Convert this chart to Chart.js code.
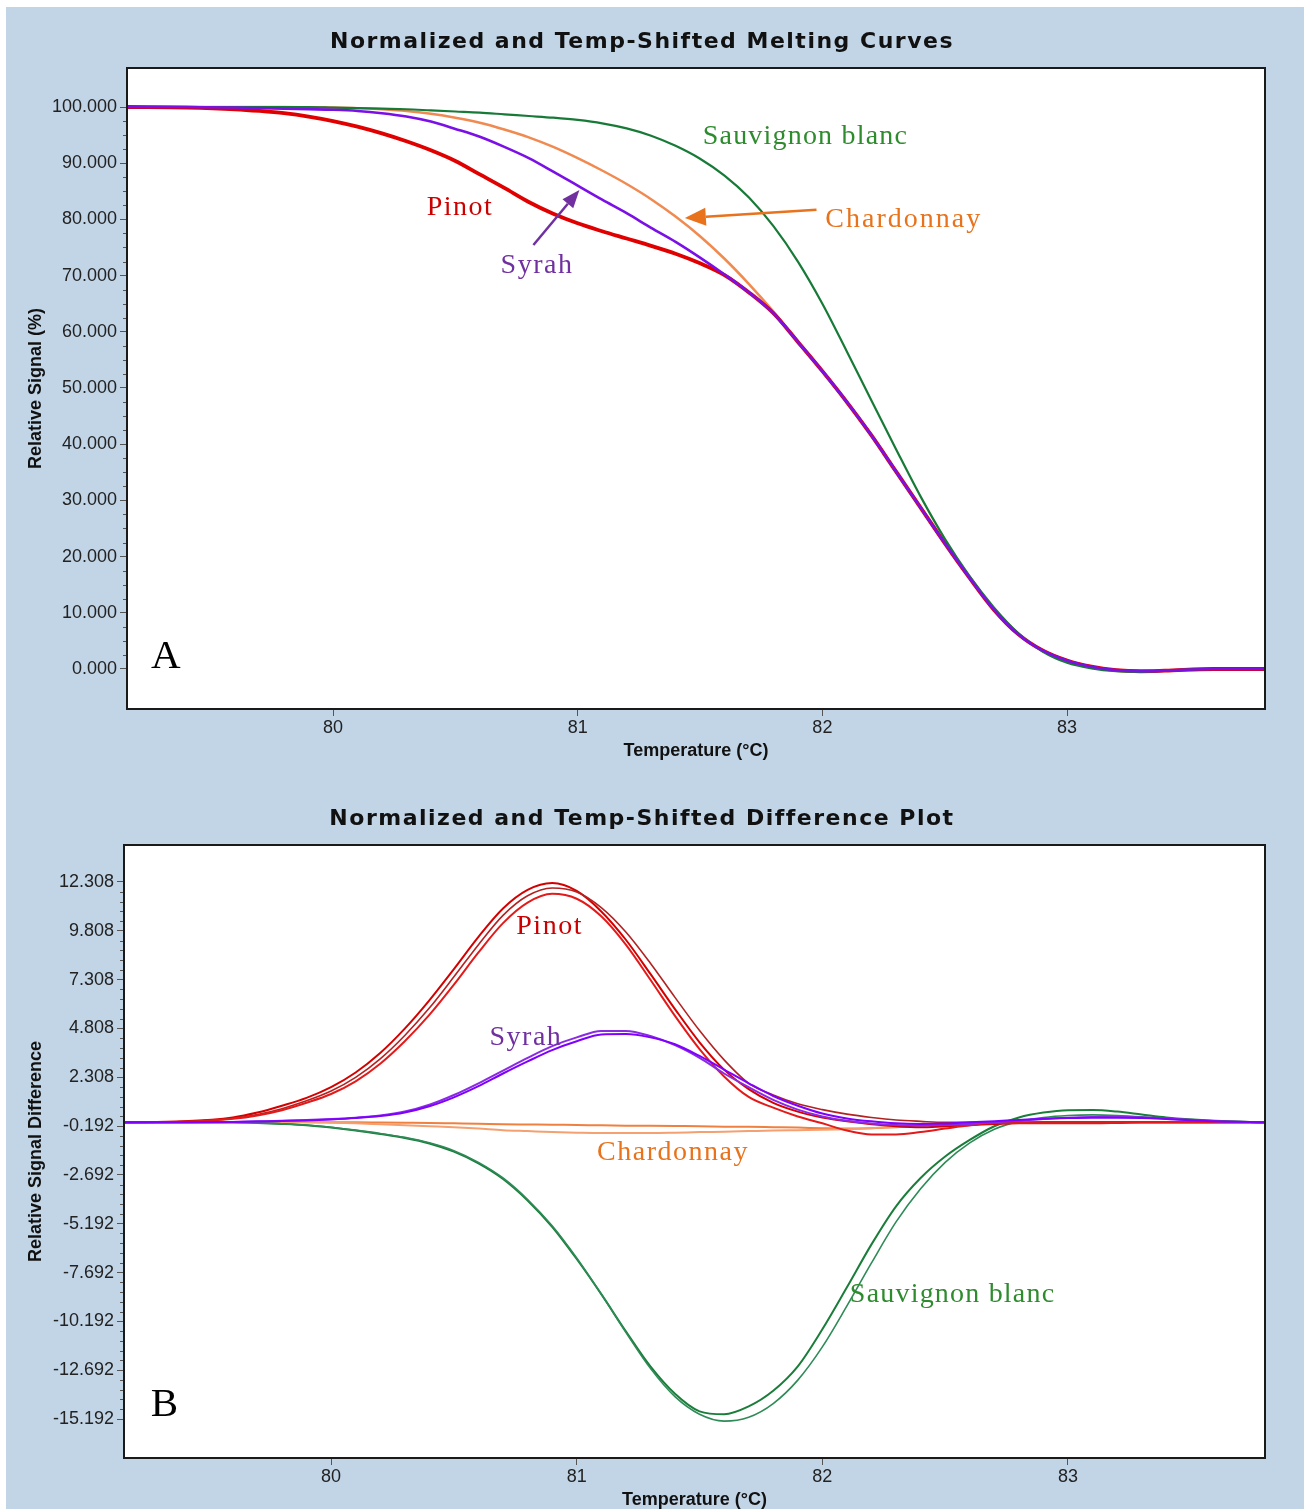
<!DOCTYPE html>
<html><head><meta charset="utf-8">
<script src="https://cdn.jsdelivr.net/npm/chart.js@4.4.1/dist/chart.umd.min.js"></script>
<style>
html,body{margin:0;padding:0;background:#fff;}
body{width:1304px;height:1509px;position:relative;overflow:hidden;}
#bg{position:absolute;left:6px;top:7px;width:1298px;height:1502px;background:#c2d5e7;}
.panel{position:absolute;left:6px;width:1298px;}
.ttl{position:absolute;left:-13px;width:1298px;text-align:center;font-family:"DejaVu Sans";font-weight:bold;font-size:22px;letter-spacing:1.5px;color:#111;line-height:26px;white-space:nowrap;}
canvas{position:absolute;left:0;top:0;}
</style></head>
<body>
<div id="bg"></div>
<div class="panel" style="top:7px;height:761px;">
  <canvas id="c1" width="1298" height="761"></canvas>
  <div class="ttl" style="top:21px;">Normalized and Temp-Shifted Melting Curves</div>
</div>
<div class="panel" style="top:768px;height:741px;">
  <canvas id="c2" width="1298" height="741"></canvas>
  <div class="ttl" style="top:37px;">Normalized and Temp-Shifted Difference Plot</div>
</div>
<script>
// ---------- data ----------
const TEMP = [79.16, 79.4, 79.6, 79.7, 79.8, 79.9, 80.0, 80.1, 80.2, 80.3, 80.4, 80.5, 80.6, 80.7, 80.8, 80.9, 81.0, 81.1, 81.2, 81.3, 81.4, 81.5, 81.6, 81.7, 81.8, 81.9, 82.0, 82.1, 82.2, 82.3, 82.4, 82.5, 82.6, 82.7, 82.8, 82.9, 83.0, 83.1, 83.2, 83.3, 83.4, 83.6, 83.81];

const X_TICKS = [80, 81, 82, 83];
const Y_TICKS_A = [0, 10, 20, 30, 40, 50, 60, 70, 80, 90, 100];
const Y_TICKS_B = [12.308, 9.808, 7.308, 4.808, 2.308, -0.192, -2.692, -5.192, -7.692, -10.192, -12.692, -15.192];

// Panel A: normalized melting curves (relative signal %)
const MELT_CHARD = [100, 100, 100, 100, 100, 99.95, 99.9, 99.8, 99.6, 99.3, 98.8, 98.1, 97.2, 96.0, 94.6, 92.9, 90.9, 88.7, 86.3, 83.6, 80.5, 77.0, 73.0, 68.5, 63.6, 58.2, 53.0, 47.5, 41.6, 35.2, 28.8, 22.4, 16.3, 10.6, 6.2, 3.3, 1.5, 0.4, -0.2, -0.4, -0.3, 0, 0];
const MELT_PINOT = [100, 99.9, 99.6, 99.3, 98.9, 98.3, 97.5, 96.5, 95.3, 93.9, 92.3, 90.4, 88.0, 85.6, 83.1, 81.0, 79.3, 77.9, 76.6, 75.3, 73.9, 72.2, 70.1, 67.0, 63.3, 58.2, 53.0, 47.5, 41.6, 35.2, 28.8, 22.4, 16.3, 10.6, 6.2, 3.3, 1.5, 0.4, -0.2, -0.4, -0.3, 0, 0];
const MELT_SYRAH = [100, 100, 99.9, 99.8, 99.7, 99.6, 99.5, 99.3, 98.9, 98.3, 97.4, 96.1, 94.7, 92.9, 90.9, 88.5, 86.0, 83.5, 81.1, 78.5, 76.0, 73.2, 70.2, 67.0, 63.3, 58.2, 53.0, 47.5, 41.6, 35.2, 28.8, 22.4, 16.3, 10.6, 6.2, 3.3, 1.5, 0.4, -0.2, -0.4, -0.3, 0, 0];
const MELT_SAUV = [100, 100, 100, 100, 100, 100, 99.9, 99.8, 99.7, 99.6, 99.4, 99.2, 99.0, 98.7, 98.4, 98.1, 97.7, 97.1, 96.2, 94.9, 93.1, 90.8, 87.8, 83.9, 78.8, 72.5, 65.0, 56.5, 47.8, 39.2, 30.8, 23.2, 16.6, 11.0, 6.4, 3.1, 1.1, 0.1, -0.4, -0.5, -0.3, 0, 0];

// Panel B: difference plot (replicates)
const DIFF_PINOT_1 = [0, 0.05, 0.25, 0.5, 0.85, 1.25, 1.8, 2.55, 3.55, 4.8, 6.25, 7.85, 9.5, 10.95, 11.9, 12.25, 11.85, 10.8, 9.35, 7.6, 5.8, 4.1, 2.7, 1.7, 1.0, 0.55, 0.25, 0.05, -0.1, -0.2, -0.25, -0.2, -0.15, -0.08, -0.03, 0, 0, 0, 0, 0, 0, 0, 0];
const DIFF_PINOT_2 = [0, 0.04, 0.2, 0.4, 0.7, 1.1, 1.6, 2.3, 3.25, 4.45, 5.85, 7.45, 9.1, 10.6, 11.6, 12.0, 11.8, 11.0, 9.75, 8.15, 6.4, 4.7, 3.2, 2.0, 1.4, 0.95, 0.65, 0.42, 0.25, 0.12, 0.05, 0, 0, 0, 0, 0, 0, 0, 0, 0, 0, 0, 0];
const DIFF_PINOT_3 = [0, 0.03, 0.18, 0.35, 0.62, 1.0, 1.45, 2.1, 3.0, 4.15, 5.5, 7.05, 8.7, 10.2, 11.25, 11.7, 11.45, 10.55, 9.1, 7.3, 5.45, 3.75, 2.35, 1.3, 0.75, 0.3, -0.05, -0.42, -0.62, -0.62, -0.5, -0.32, -0.15, -0.04, -0.05, -0.05, -0.05, -0.05, -0.03, 0, 0, 0, 0];
const DIFF_SYRAH_1 = [0, 0, 0.02, 0.05, 0.08, 0.12, 0.17, 0.24, 0.35, 0.55, 0.9, 1.4, 2.0, 2.65, 3.3, 3.9, 4.35, 4.68, 4.68, 4.42, 3.95, 3.3, 2.5, 1.8, 1.15, 0.65, 0.3, 0.08, -0.06, -0.14, -0.16, -0.14, -0.08, 0, 0.08, 0.17, 0.23, 0.27, 0.28, 0.26, 0.2, 0.06, 0];
const DIFF_SYRAH_2 = [0, 0, 0.02, 0.04, 0.07, 0.1, 0.15, 0.22, 0.32, 0.5, 0.82, 1.28, 1.85, 2.5, 3.12, 3.7, 4.15, 4.5, 4.52, 4.35, 4.0, 3.4, 2.7, 2.0, 1.35, 0.85, 0.45, 0.2, 0.05, -0.05, -0.08, -0.06, 0, 0.06, 0.12, 0.18, 0.22, 0.24, 0.24, 0.22, 0.17, 0.05, 0];
const DIFF_CHARD_1 = [0, 0, 0, 0, 0, 0, 0, 0, -0.01, -0.02, -0.03, -0.05, -0.07, -0.1, -0.11, -0.12, -0.14, -0.15, -0.17, -0.18, -0.19, -0.2, -0.22, -0.23, -0.25, -0.27, -0.3, -0.32, -0.3, -0.25, -0.18, -0.1, -0.05, 0, 0, 0, 0, 0, 0, 0, 0, 0, 0];
const DIFF_CHARD_2 = [0, 0, 0, 0, 0, 0, -0.02, -0.05, -0.1, -0.15, -0.2, -0.25, -0.32, -0.4, -0.45, -0.5, -0.53, -0.55, -0.55, -0.55, -0.53, -0.5, -0.48, -0.45, -0.42, -0.4, -0.38, -0.35, -0.3, -0.22, -0.15, -0.08, -0.03, 0, 0, 0, 0, 0, 0, 0, 0, 0, 0];
const DIFF_SAUV_1 = [0, 0, 0, -0.03, -0.08, -0.15, -0.27, -0.42, -0.6, -0.8, -1.08, -1.5, -2.1, -2.9, -4.0, -5.35, -7.0, -8.8, -10.7, -12.5, -13.9, -14.8, -14.95, -14.55, -13.75, -12.5, -10.6, -8.45, -6.25, -4.3, -2.85, -1.75, -0.9, -0.2, 0.25, 0.5, 0.62, 0.63, 0.55, 0.4, 0.25, 0.08, 0];
const DIFF_SAUV_2 = [0, 0, 0, -0.03, -0.07, -0.14, -0.25, -0.4, -0.57, -0.77, -1.05, -1.45, -2.05, -2.85, -3.95, -5.3, -6.95, -8.8, -10.75, -12.6, -14.05, -14.95, -15.3, -15.1, -14.4, -13.2, -11.5, -9.4, -7.2, -5.1, -3.4, -2.05, -1.05, -0.35, 0.05, 0.25, 0.35, 0.38, 0.35, 0.28, 0.18, 0.05, 0];

// annotations (data coordinates)
const LABELS_A = [
  {text: 'Sauvignon blanc', x: 81.511, y: 93.4, color: '#2e8b2e', spacing: 1.2},
  {text: 'Chardonnay', x: 82.012, y: 78.7, color: '#e8731c', spacing: 2},
  {text: 'Pinot', x: 80.383, y: 80.8, color: '#cc0000'},
  {text: 'Syrah', x: 80.685, y: 70.55, color: '#7030a0'},
  {text: 'A', x: 79.256, y: 0.12, color: '#000', size: 41, spacing: 0}
];
const ARROWS_A = [
  {from: [81.976, 81.71], to: [81.438, 80.25], color: '#e8731c', head: 21, width: 9},
  {from: [80.819, 75.44], to: [81.007, 85.23], color: '#7030a0', head: 18, width: 7}
];
const LABELS_B = [
  {text: 'Pinot', x: 80.754, y: 9.64, color: '#cc0000'},
  {text: 'Syrah', x: 80.645, y: 3.955, color: '#7030a0'},
  {text: 'Chardonnay', x: 81.083, y: -1.907, color: '#e8731c'},
  {text: 'Sauvignon blanc', x: 82.112, y: -9.188, color: '#2e8b2e', spacing: 1.2},
  {text: 'B', x: 79.266, y: -15.04, color: '#000', size: 41, spacing: 0}
];

// ---------- helpers ----------
const pts = vals => TEMP.map((t, i) => ({x: t, y: vals[i]}));
// Chart.js draws the first dataset on top; 'order' keeps the listed stacking explicit
const ds = (label, vals, color, w, order) => ({label, data: pts(vals), borderColor: color, borderWidth: w, pointRadius: 0, cubicInterpolationMode: 'monotone', fill: false, order});

const deco = {
  id: 'deco',
  beforeDraw(chart) {
    const {ctx, chartArea: a} = chart;
    ctx.save();
    ctx.fillStyle = '#fff';
    ctx.fillRect(a.left, a.top, a.right - a.left, a.bottom - a.top);
    ctx.restore();
  },
  afterDraw(chart, args, opts) {
    const {ctx, chartArea: a, scales: {x, y}} = chart;
    ctx.save();
    ctx.strokeStyle = '#555'; ctx.lineWidth = 1;
    const t = opts.majors;
    for (let i = 0; i < t.length - 1; i++) {
      for (let k = 1; k < opts.minorDiv; k++) {
        const v = t[i] + (t[i + 1] - t[i]) * k / opts.minorDiv;
        const py = Math.round(y.getPixelForValue(v)) + 0.5;
        ctx.beginPath(); ctx.moveTo(a.left - 4, py); ctx.lineTo(a.left, py); ctx.stroke();
      }
    }
    ctx.strokeStyle = '#1a1a1a'; ctx.lineWidth = 2;
    ctx.strokeRect(a.left, a.top, a.right - a.left, a.bottom - a.top);
    (opts.arrows || []).forEach(ar => {
      const x1 = x.getPixelForValue(ar.from[0]), y1 = y.getPixelForValue(ar.from[1]);
      const x2 = x.getPixelForValue(ar.to[0]), y2 = y.getPixelForValue(ar.to[1]);
      const ang = Math.atan2(y2 - y1, x2 - x1);
      const L = ar.head, W = ar.width;
      const bx = x2 - L * Math.cos(ang), by = y2 - L * Math.sin(ang);
      ctx.strokeStyle = ar.color; ctx.fillStyle = ar.color; ctx.lineWidth = 2.5;
      ctx.beginPath(); ctx.moveTo(x1, y1); ctx.lineTo(bx, by); ctx.stroke();
      ctx.beginPath(); ctx.moveTo(x2, y2);
      ctx.lineTo(bx + W * Math.sin(ang), by - W * Math.cos(ang));
      ctx.lineTo(bx - W * Math.sin(ang), by + W * Math.cos(ang));
      ctx.closePath(); ctx.fill();
    });
    (opts.labels || []).forEach(l => {
      ctx.font = (l.size || 28) + 'px "Liberation Serif"';
      ctx.letterSpacing = (l.spacing ?? 1.5) + 'px';
      ctx.fillStyle = l.color; ctx.textAlign = 'left'; ctx.textBaseline = 'alphabetic';
      ctx.fillText(l.text, x.getPixelForValue(l.x), y.getPixelForValue(l.y));
    });
    ctx.letterSpacing = '0px';
    ctx.restore();
  }
};

const tickFont = {family: 'Liberation Sans', size: 18};
const titleFont = {family: 'Liberation Sans', size: 18, weight: 'bold', lineHeight: 1};
const gridOpt = {drawOnChartArea: false, drawTicks: true, tickLength: 7, tickColor: '#555', tickWidth: 1};

function xScale(min, max, height, padBottom) {
  return {
    type: 'linear', min, max,
    afterBuildTicks: s => { s.ticks = X_TICKS.map(v => ({value: v})); },
    afterFit: s => { s.height = height; },
    ticks: {autoSkip: false, maxRotation: 0, padding: 1, color: '#222', font: tickFont, callback: v => String(v)},
    grid: gridOpt, border: {display: false},
    title: {display: true, text: 'Temperature (°C)', color: '#111', font: titleFont, padding: {top: 0, bottom: padBottom}}
  };
}
function yScale(min, max, width, ticks, title) {
  return {
    type: 'linear', min, max,
    afterBuildTicks: s => { s.ticks = ticks.map(v => ({value: v})); },
    afterFit: s => { s.width = width; },
    ticks: {autoSkip: false, padding: 3, color: '#222', font: tickFont, callback: v => Number(v).toFixed(3)},
    grid: gridOpt, border: {display: false},
    title: {display: true, text: title, color: '#111', font: titleFont, padding: {top: 21, bottom: 0}}
  };
}

const common = {responsive: false, animation: false, devicePixelRatio: 1, events: []};

new Chart(document.getElementById('c1'), {
  type: 'line',
  data: {datasets: [
    ds('Syrah', MELT_SYRAH, '#7a10e6', 2.6, 1),
    ds('Sauvignon blanc', MELT_SAUV, '#187a37', 2.2, 2),
    ds('Pinot', MELT_PINOT, '#e00000', 3.8, 3),
    ds('Chardonnay', MELT_CHARD, '#f08a50', 2.5, 4)
  ]},
  options: Object.assign({}, common, {
    layout: {padding: {top: 61, right: 39, left: 0, bottom: 0}},
    scales: {
      x: xScale(79.158, 83.809, 59, 8),
      y: yScale(-7.12, 106.94, 121, Y_TICKS_A, 'Relative Signal (%)')
    },
    plugins: {legend: {display: false}, tooltip: {enabled: false}, title: {display: false},
      deco: {majors: Y_TICKS_A, minorDiv: 4, labels: LABELS_A, arrows: ARROWS_A}}
  }),
  plugins: [deco]
});

new Chart(document.getElementById('c2'), {
  type: 'line',
  data: {datasets: [
    ds('Syrah 2', DIFF_SYRAH_2, '#7f00ff', 2, 1),
    ds('Syrah 1', DIFF_SYRAH_1, '#8a2be2', 2, 2),
    ds('Pinot 3', DIFF_PINOT_3, '#e41a1a', 2, 3),
    ds('Pinot 2', DIFF_PINOT_2, '#b22222', 1.6, 4),
    ds('Pinot 1', DIFF_PINOT_1, '#d40000', 2, 5),
    ds('Sauvignon blanc 2', DIFF_SAUV_2, '#2e8b57', 1.6, 6),
    ds('Sauvignon blanc 1', DIFF_SAUV_1, '#1b7d3a', 2, 7),
    ds('Chardonnay 2', DIFF_CHARD_2, '#f4a070', 2, 8),
    ds('Chardonnay 1', DIFF_CHARD_1, '#f08040', 2, 9)
  ]},
  options: Object.assign({}, common, {
    layout: {padding: {top: 77, right: 39, left: 0, bottom: 0}},
    scales: {
      x: xScale(79.157, 83.802, 51, 0),
      y: yScale(-17.189, 14.202, 118, Y_TICKS_B, 'Relative Signal Difference')
    },
    plugins: {legend: {display: false}, tooltip: {enabled: false}, title: {display: false},
      deco: {majors: Y_TICKS_B, minorDiv: 5, labels: LABELS_B}}
  }),
  plugins: [deco]
});
</script>
</body></html>
